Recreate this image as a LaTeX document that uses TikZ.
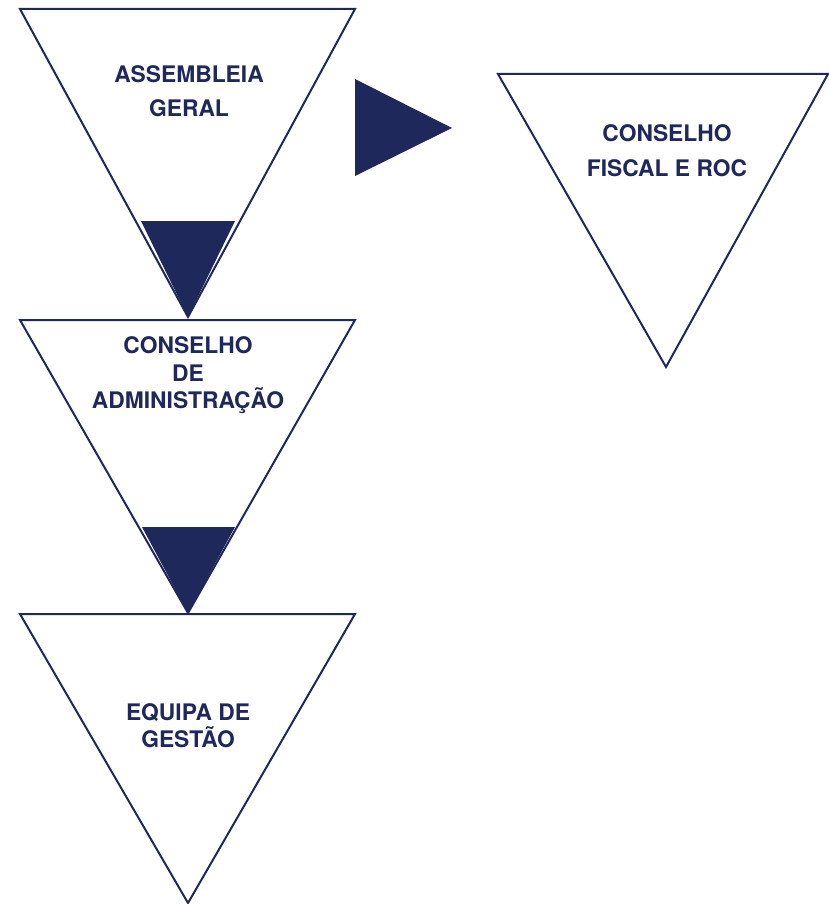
\documentclass[tikz,border=0pt]{standalone}
\usepackage{fontspec}
\setmainfont{TeX Gyre Heros}
\definecolor{navy}{RGB}{31,40,91}

\tikzset{
  organ/.style={draw=navy, line width=2pt, line join=miter, fill=white},
  flow/.style={fill=navy, draw=none},
  label/.style={navy, anchor=base, align=center, inner sep=0pt,
    font=\bfseries\fontsize{22.8}{28}\selectfont}
}

\begin{document}
\begin{tikzpicture}[x=1pt, y=-1pt]
  \useasboundingbox (0,0) rectangle (829,904);

  % general assembly
  \draw[organ] (20,9) -- (355,9) -- (188,317) -- cycle;
  \fill[flow] (141,221) -- (235,221) -- (188,317) -- cycle;
  \node[label] (assembleia) at (189,117) {ASSEMBLEIA\\[6pt]GERAL};

  % pointer towards the audit board
  \fill[flow] (355,79) -- (452,128) -- (355,176) -- cycle;

  % audit board
  \draw[organ] (498,74) -- (828,74) -- (666,367) -- cycle;
  \node[label] (fiscal) at (667,177) {CONSELHO\\[7pt]FISCAL E ROC};

  % board of directors
  \draw[organ] (20,320) -- (355,320) -- (188,613) -- cycle;
  \fill[flow] (142,527) -- (235,527) -- (188,613) -- cycle;
  \node[label] (administracao) at (188,408) {CONSELHO\\DE\\[-1pt]ADMINISTRAÇÃO};

  % management team
  \draw[organ] (20,614) -- (355,614) -- (188,903) -- cycle;
  \node[label] (gestao) at (188,747) {EQUIPA DE\\[-1pt]GESTÃO};

\end{tikzpicture}
\end{document}
